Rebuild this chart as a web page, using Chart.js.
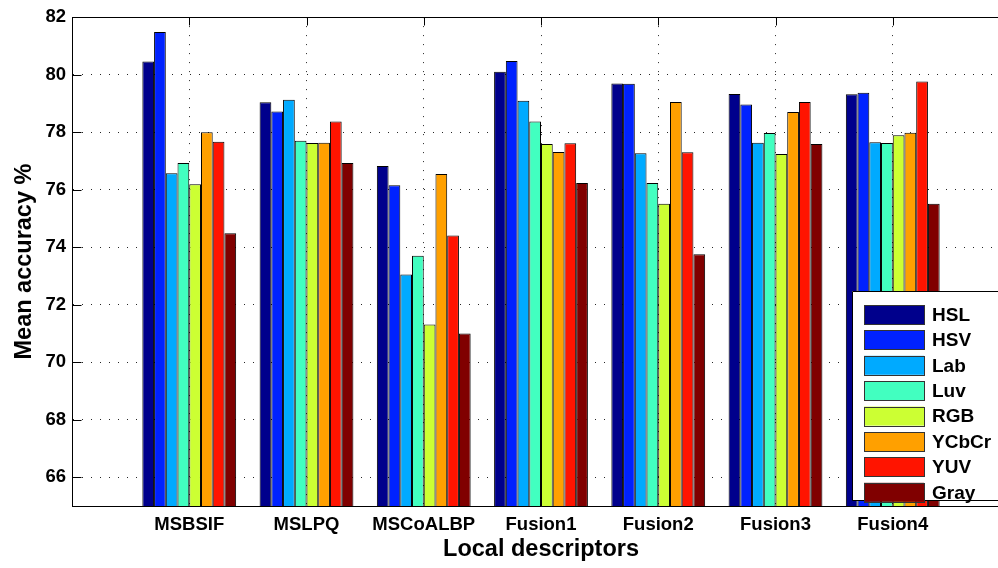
<!DOCTYPE html>
<html>
<head>
<meta charset="utf-8">
<script src="https://cdn.jsdelivr.net/npm/chart.js@4/dist/chart.umd.min.js"></script>
<style>
  html, body { margin: 0; padding: 0; background: #fff; overflow: hidden; }
  #wrap { position: relative; width: 1010px; height: 568px; }
</style>
</head>
<body>
<div id="wrap"><canvas id="c" width="1010" height="568"></canvas></div>
<script>
// ---- data ----
const categories = ['MSBSIF', 'MSLPQ', 'MSCoALBP', 'Fusion1', 'Fusion2', 'Fusion3', 'Fusion4'];
const seriesNames = ['HSL', 'HSV', 'Lab', 'Luv', 'RGB', 'YCbCr', 'YUV', 'Gray'];
const HSL   = [80.46, 79.04, 76.82, 80.10, 79.69, 79.33, 79.32];
const HSV   = [81.48, 78.72, 76.15, 80.47, 79.68, 78.96, 79.37];
const Lab   = [76.57, 79.13, 73.05, 79.09, 77.27, 77.63, 77.65];
const Luv   = [76.93, 77.70, 73.70, 78.37, 76.23, 77.97, 77.62];
const RGB   = [76.19, 77.62, 71.31, 77.59, 75.51, 77.24, 77.89];
const YCbCr = [78.00, 77.63, 76.54, 77.31, 79.05, 78.70, 77.98];
const YUV   = [77.67, 78.37, 74.41, 77.61, 77.30, 79.05, 79.76];
const Gray  = [74.48, 76.93, 71.00, 76.23, 73.75, 77.59, 75.51];
const yTicks = [66, 68, 70, 72, 74, 76, 78, 80, 82];
const xTitle = 'Local descriptors';
const yTitle = 'Mean accuracy %';

// ---- styles ----
const seriesValues = [HSL, HSV, Lab, Luv, RGB, YCbCr, YUV, Gray];
const colors = ['#00008c', '#0022ff', '#00aaff', '#42ffc0', '#ccff33', '#ffa000', '#ff1400', '#800000'];
const FONT = '"Liberation Sans", Arial, Helvetica, sans-serif';

const datasets = seriesNames.map((name, s) => ({
  label: name,
  data: categories.map((c, i) => ({ x: i + 1, y: seriesValues[s][i] })),
  backgroundColor: colors[s],
  borderColor: '#000',
  borderWidth: 1,
  borderSkipped: false,
  categoryPercentage: 0.8,
  barPercentage: 1.0
}));

const framePlugin = {
  id: 'frame',
  afterDatasetsDraw(chart) {
    const { ctx, chartArea: a, scales: { x, y } } = chart;
    ctx.save();
    ctx.strokeStyle = '#000';
    ctx.lineWidth = 1;
    ctx.setLineDash([]);
    ctx.beginPath();
    const L = Math.round(a.left) + 0.5, T = Math.round(a.top) + 0.5, B = Math.round(a.bottom) + 0.5, R = Math.round(a.right) + 0.5;
    ctx.moveTo(L, T); ctx.lineTo(R, T);
    ctx.moveTo(L, T); ctx.lineTo(L, B);
    ctx.moveTo(L, B); ctx.lineTo(R, B);
    // inward ticks
    yTicks.forEach(v => {
      const py = Math.round(y.getPixelForValue(v)) + 0.5;
      ctx.moveTo(L, py); ctx.lineTo(L + 9, py);
    });
    categories.forEach((c, i) => {
      const px = Math.round(x.getPixelForValue(i + 1)) + 0.5;
      ctx.moveTo(px, T); ctx.lineTo(px, T + 8);
    });
    ctx.stroke();
    ctx.restore();
  },
  afterDraw(chart) {
    const { ctx, chartArea: a } = chart;
    const bx = Math.round(a.right - 158), by = Math.round(a.top + 274), bh = 209;
    const ex = chart.width + 20;
    ctx.save();
    ctx.fillStyle = '#fff';
    ctx.fillRect(bx, by, ex - bx, bh);
    ctx.strokeStyle = '#000';
    ctx.lineWidth = 1;
    ctx.beginPath();
    ctx.moveTo(ex, by + 0.5); ctx.lineTo(bx + 0.5, by + 0.5);
    ctx.lineTo(bx + 0.5, by + bh + 0.5); ctx.lineTo(ex, by + bh + 0.5);
    ctx.stroke();
    ctx.font = 'bold 19px ' + FONT;
    ctx.textBaseline = 'middle';
    ctx.textAlign = 'left';
    chart.data.datasets.forEach((ds, i) => {
      const sy = by + 14 + i * 25.4;
      ctx.fillStyle = ds.backgroundColor;
      ctx.fillRect(bx + 12, sy, 60, 19);
      ctx.strokeStyle = '#333';
      ctx.strokeRect(Math.round(bx + 12) + 0.5, Math.round(sy) + 0.5, 60, 19);
      ctx.fillStyle = '#000';
      ctx.fillText(ds.label, bx + 80, sy + 10.5);
    });
    ctx.restore();
  }
};

new Chart(document.getElementById('c'), {
  type: 'bar',
  data: { datasets },
  options: {
    responsive: false,
    animation: false,
    devicePixelRatio: 1,
    layout: { padding: { top: 13, right: 0, left: 0, bottom: 0 } },
    plugins: { legend: { display: false }, tooltip: { enabled: false } },
    scales: {
      x: {
        type: 'linear',
        offset: false,
        min: 0,
        max: categories.length + 1,
        afterBuildTicks: s => { s.ticks = categories.map((c, i) => ({ value: i + 1 })); },
        afterFit: s => { s.height = 62; },
        ticks: {
          autoSkip: false,
          maxRotation: 0,
          padding: 8,
          color: '#000',
          font: { family: FONT, size: 18.5, weight: 'bold' },
          callback: v => categories[v - 1] || ''
        },
        grid: { display: true, offset: false, drawTicks: false, color: 'rgba(0,0,0,0.85)', lineWidth: 1 },
        border: { display: true, color: '#000', width: 1, dash: [1, 8] },
        title: {
          display: true, text: xTitle, color: '#000',
          font: { family: FONT, size: 23.5, weight: 'bold' },
          padding: { top: 0, bottom: 4 }
        }
      },
      y: {
        type: 'linear',
        min: 65,
        max: 82,
        afterBuildTicks: s => { s.ticks = yTicks.map(v => ({ value: v })); },
        afterFit: s => { s.width = 72; },
        ticks: {
          padding: 6,
          color: '#000',
          font: { family: FONT, size: 18.5, weight: 'bold' }
        },
        grid: { display: true, drawTicks: false, color: 'rgba(0,0,0,0.85)', lineWidth: 1 },
        border: { display: true, color: '#000', width: 1, dash: [1, 8] },
        title: {
          display: true, text: yTitle, color: '#000',
          font: { family: FONT, size: 23.5, weight: 'bold' },
          padding: { top: 10, bottom: 0 }
        }
      }
    }
  },
  plugins: [framePlugin]
});
</script>
</body>
</html>
